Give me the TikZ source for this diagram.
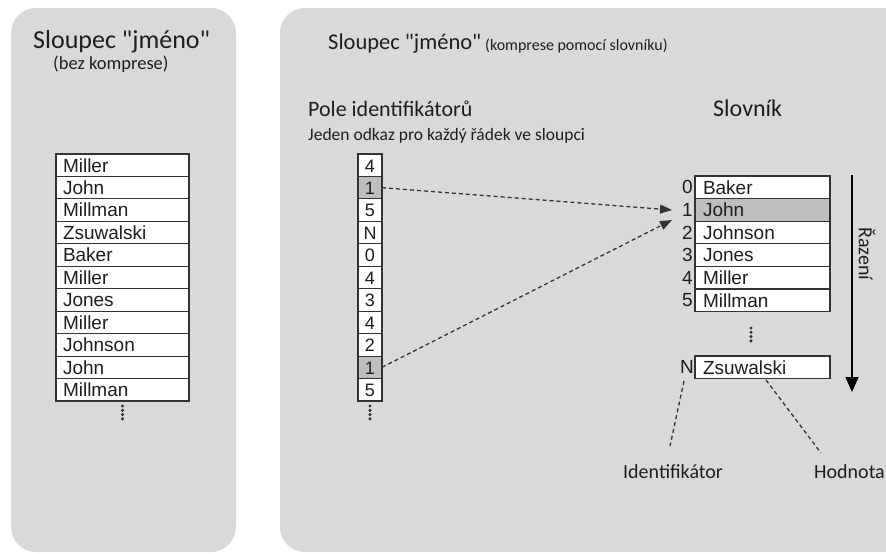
\documentclass[tikz,border=0pt]{standalone}
\usepackage{fontspec}
\setmainfont{Carlito}[Ligatures=TeXOff]
\newfontfamily\arialf{Liberation Sans}
\usetikzlibrary{arrows.meta}
\definecolor{panel}{HTML}{D9D9D9}
\definecolor{cellgray}{HTML}{BEBEBE}
\definecolor{ink}{HTML}{1E1E1E}
\definecolor{rulec}{HTML}{333333}
\newcommand{\qq}{\char34\relax}
\begin{document}
\begin{tikzpicture}[x=1pt,y=-1pt,
  cellbase/.style={draw=rulec, line width=1.1pt, fill=white, anchor=north west,
    inner ysep=0pt, outer sep=0pt, text=ink, text height=13.6pt, text depth=0pt,
    font=\arialf\fontsize{19}{19}\selectfont},
  namecell/.style={cellbase, inner xsep=7pt, text width=119pt, align=left, minimum height=22.45pt},
  idcell/.style={cellbase, inner xsep=0pt, minimum width=24pt, minimum height=22.45pt, align=center,
    font=\arialf\fontsize{18}{18}\selectfont},
  dictcell/.style={cellbase, inner xsep=8pt, text width=119pt, align=left, minimum height=22.6pt},
  numlbl/.style={anchor=east, inner sep=0pt, text=ink, font=\arialf\fontsize{19}{19}\selectfont},
  titletxt/.style={anchor=base west, inner sep=0pt, text=ink},
  dashln/.style={draw=rulec, line width=1.3pt, dash pattern=on 4pt off 3pt},
  dotsty/.style={fill=rulec},
]
\useasboundingbox (0,0) rectangle (886,554);
\begin{scope}
\clip (0,0) rectangle (886,554);
\fill[panel, rounded corners=25pt] (11,8) rectangle (236,552);
\fill[panel, rounded corners=25pt] (280,8) rectangle (910,552);
\end{scope}

% titles
\node[titletxt, font=\fontsize{26}{26}\selectfont] (t1) at (33,48) {Sloupec \qq jméno\qq};
\node[titletxt, font=\fontsize{18.5}{18.5}\selectfont] (t2) at (53,69) {(bez komprese)};
\node[titletxt, font=\fontsize{22.5}{22.5}\selectfont] (t3) at (328,49) {Sloupec \qq jméno\qq};
\node[titletxt, font=\fontsize{16}{16}\selectfont] (t4) at (485,50) {(komprese pomocí slovníku)};
\node[titletxt, font=\fontsize{22}{22}\selectfont] (t5) at (308,116) {Pole identifikátorů};
\node[titletxt, font=\fontsize{17.5}{17.5}\selectfont] (t6) at (308,140) {Jeden odkaz pro každý řádek ve sloupci};
\node[titletxt, font=\fontsize{24}{24}\selectfont] (t7) at (713,116) {Slovník};

% left table
\foreach \t [count=\i from 0] in {Miller,John,Millman,Zsuwalski,Baker,Miller,Jones,Miller,Johnson,John,Millman}
  \node[namecell] (L\i) at (56,{154+22.45*\i}) {\t};
\foreach \k in {0,1,2,3}
  \fill[dotsty] (122.5,{406+4.3*\k}) circle (1.7pt);

% id column
\foreach \t/\f [count=\i from 0] in {4/white,1/cellgray,5/white,N/white,0/white,4/white,3/white,4/white,2/white,1/cellgray,5/white}
  \node[idcell, fill=\f] (I\i) at (358,{154+22.45*\i}) {\t};
\foreach \k in {0,1,2,3}
  \fill[dotsty] (370,{406+4.3*\k}) circle (1.7pt);

% dictionary
\foreach \t/\f [count=\i from 0] in {Baker/white,John/cellgray,Johnson/white,Jones/white,Miller/white,Millman/white}{
  \node[dictcell, fill=\f] (D\i) at (695,{176+22.6*\i}) {\t};
  \node[numlbl] (K\i) at (693,{176+22.6*\i+17.9}) [anchor=base east] {\i};
}
\foreach \k in {0,1,2,3}
  \fill[dotsty] (751,{328+4.3*\k}) circle (1.7pt);
\node[dictcell, fill=white] (DN) at (695,356) {Zsuwalski};
\node[numlbl, anchor=base east] (KN) at (694,373.8) {N};

% pointers
\coordinate (p1) at (672,210);
\coordinate (p2) at (672,220);
\draw[dashln, -{Triangle[length=12pt,width=9pt]}] (I1.east) -- (p1);
\draw[dashln, -{Triangle[length=12pt,width=9pt]}] (I9.east) -- (p2);

% sort arrow
\coordinate (s1) at (852,175);
\coordinate (s2) at (852,392);
\draw[draw=black, line width=1.6pt, -{Triangle[length=15pt,width=13pt]}] (s1) -- (s2);
\node[rotate=-90, inner sep=0pt, text=ink, font=\fontsize{20}{20}\selectfont] (raz) at (867,254) {Řazení};

% identifier/value labels
\node[titletxt, font=\fontsize{20}{20}\selectfont] (idl) at (623,478) {Identifikátor};
\node[titletxt, font=\fontsize{20}{20}\selectfont] (hod) at (814,478) {Hodnota};
\coordinate (a1) at (684,381);
\coordinate (a2) at (670,446);
\coordinate (b1) at (766,380);
\coordinate (b2) at (821,453);
\draw[dashln] (a1) -- (a2);
\draw[dashln] (b1) -- (b2);
\end{tikzpicture}
\end{document}
